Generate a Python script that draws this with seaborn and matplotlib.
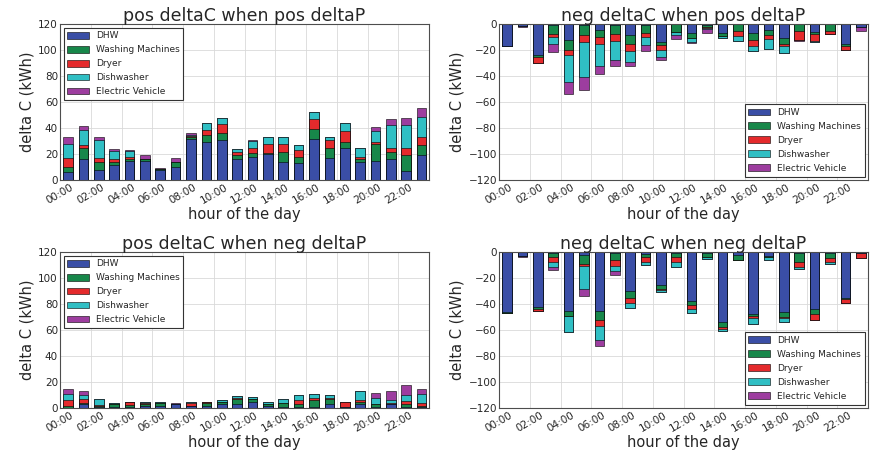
import numpy as np
import pandas as pd
import matplotlib
matplotlib.use("Agg")
import matplotlib.pyplot as plt
from matplotlib.patches import Patch
import seaborn as sns

hours = np.arange(24)
hour_labels = [f"{h:02d}:00" for h in range(0, 24, 2)]
appliances = ["DHW", "Washing Machines", "Dryer", "Dishwasher", "Electric Vehicle"]
colors = ["#3a4ea6", "#17874a", "#e42a2c", "#30bfc4", "#9d3d9f"]

# pos deltaC when pos deltaP
pp_dhw = [6, 16, 8, 12, 14.4, 15, 7.7, 10.3, 31.4, 29, 31, 16, 17.5, 20, 13.6, 13.4, 31.4, 17.2, 24.4, 13.6, 14.7, 16, 7, 19.3]
pp_wm = [4, 8.5, 5.6, 1.6, 1.6, 1, 0.8, 3.3, 2, 5.7, 5.5, 3.3, 3.5, 1, 8.4, 4.6, 7.9, 7.2, 4.6, 2.4, 13.1, 5.9, 12.3, 7.7]
pp_dryer = [7, 2.5, 3.4, 2.4, 2, 0.5, 0, 0.4, 0.6, 3.9, 6.7, 2.7, 3.4, 6.5, 5.8, 5, 7.5, 6.4, 8.8, 2, 1.8, 2.5, 5.1, 6.4]
pp_dw = [11, 11.5, 14, 6.6, 4.6, 0, 0, 0, 0.7, 5.1, 4.8, 2, 5.9, 5.5, 5.2, 4, 5.6, 2.2, 6.4, 6.4, 8.4, 18, 18, 15.4]
pp_ev = [5, 3.5, 2, 1.4, 0.8, 2.5, 0.5, 3, 1.8, 0.3, 0, 0, 0.7, 0, 0, 0, 0, 0, 0, 0, 2.8, 4.6, 5.2, 6.5]

# neg deltaC when pos deltaP
np_dhw = [16.5, 1.5, 24, 1, 12.5, 1, 4.7, 1, 8.6, 1, 13.8, 0, 6.8, 0.5, 7, 0, 7, 4.2, 11, 0, 6, 0, 15.5, 2]
np_wm = [0, 0, 1.5, 6.8, 7.5, 7.6, 5.3, 6.8, 6.4, 5.8, 2.2, 6, 3.6, 1.5, 2, 5, 5, 4.4, 4.4, 5.2, 2, 5, 1.5, 0]
np_dryer = [0, 0, 4.5, 2.2, 3.5, 5.2, 5, 5.2, 5.4, 3.2, 3.8, 0, 0.5, 1, 0, 4, 5, 2.6, 1.5, 7, 5, 2.8, 3, 0]
np_dw = [0, 0, 0, 5, 21, 27, 17, 14.7, 9, 6.4, 5.8, 2.6, 2.6, 0.5, 2, 4, 4, 7.8, 5, 0, 0.8, 0, 0, 0]
np_ev = [0, 0.5, 0, 6.7, 9.5, 10, 6.6, 4.3, 2.5, 4, 2.4, 2.6, 1.3, 3.5, 0, 0, 0, 0, 0, 0.5, 0, 0, 0, 3]

# pos deltaC when neg deltaP
pn_dhw = [0, 3, 0.5, 1, 1, 2, 2, 3, 1.5, 2, 3, 3, 5, 1.5, 0.5, 0.5, 1, 3, 0.5, 3, 1, 3, 1, 0.5]
pn_wm = [2, 1, 1, 2, 1.5, 1, 2, 0.5, 0, 2, 2, 4, 2, 2, 3.5, 3, 5, 4, 0.5, 1.5, 2, 0.5, 2, 1]
pn_dryer = [4, 3, 1, 0.5, 2, 1, 0, 0, 2.5, 0.5, 0, 0.5, 0, 0, 0, 3, 1.5, 0.5, 3.5, 2, 0.5, 0.5, 2.5, 2.5]
pn_dw = [5, 3, 4.5, 0.5, 0.5, 0.5, 0.5, 0, 0.5, 0.5, 1.5, 1.5, 1.5, 1.5, 3, 3.5, 3.5, 2.5, 0.5, 7, 4, 2.5, 4.5, 7]
pn_ev = [4, 3, 0, 0, 0, 0, 0, 0.5, 0, 0, 0, 0, 0, 0, 0, 0, 0, 0, 0, 0, 4.5, 7, 8, 4]

# neg deltaC when neg deltaP
nn_dhw = [46, 3, 42.5, 1, 45, 2, 45, 1, 30, 1.5, 25, 1, 37.5, 1, 54, 2, 47.5, 3, 46, 1, 43.5, 1, 35, 0.5]
nn_wm = [1, 0, 1, 3, 4, 7, 7, 5.5, 5, 2, 3.5, 3, 3, 2.5, 3.5, 4, 1.5, 0.5, 4, 6.5, 4.5, 3.5, 1, 0]
nn_dryer = [0, 0, 2, 4, 0.5, 1.5, 4.5, 4.5, 4.5, 4, 1, 4, 3.5, 0, 2, 0, 2, 0, 1, 4, 4.5, 3.5, 3, 4]
nn_dw = [0, 0, 0, 3.5, 12, 18, 11, 3.5, 3.5, 2.5, 1.5, 3.5, 3, 1.5, 1.5, 0, 4.5, 3, 3, 1.5, 0, 1, 0, 0]
nn_ev = [0, 1, 0, 2.5, 0, 5, 4.5, 3.5, 0, 0, 0, 0, 0, 0, 0, 0, 0, 0, 0, 0, 0, 0, 0, 0]

sns.set_theme(style="whitegrid", rc={
    "axes.edgecolor": "0.3",
    "axes.linewidth": 0.8,
    "grid.color": "0.85",
    "grid.linewidth": 0.6,
    "xtick.labelsize": 7.5,
    "ytick.labelsize": 7.5,
})
plt.rcParams["font.family"] = ["DejaVu Sans"]


def stacked_panel(ax, layers, title, sign, legend_loc):
    cum = np.cumsum(np.array(layers, dtype=float), axis=0) * sign
    rows = []
    for k, name in enumerate(appliances):
        for h in hours:
            rows.append({"pos": h + 0.52, "appliance": name, "value": cum[k, h]})
    df = pd.DataFrame(rows)
    # draw the outermost layer first so inner ones sit on top of it
    sns.barplot(data=df, x="pos", y="value", hue="appliance",
                hue_order=appliances[::-1], palette=colors[::-1],
                dodge=False, native_scale=True, width=0.62, saturation=1,
                errorbar=None, edgecolor="black", linewidth=0.4,
                legend=False, ax=ax)
    ax.set_xlim(0, 24)
    if sign > 0:
        ax.set_yticks(np.arange(0, 121, 20))
        ax.set_ylim(0, 120)
    else:
        ax.set_yticks(np.arange(-120, 1, 20))
        ax.set_ylim(-120, 0)
    ax.set_xticks(np.arange(0, 24, 2))
    ax.set_xticklabels(hour_labels, rotation=30, ha="center")
    ax.tick_params(axis="both", pad=1.5, length=0)
    ax.set_title(title, fontsize=12.5, pad=2)
    ax.set_ylabel("delta C (kWh)", fontsize=10.5, labelpad=3)
    ax.set_xlabel("hour of the day", fontsize=10.5, labelpad=1)
    handles = [Patch(facecolor=c, edgecolor="black", linewidth=0.4) for c in colors]
    leg = ax.legend(handles, appliances, loc=legend_loc, fontsize=6.5,
                    frameon=True, fancybox=False, edgecolor="0.2",
                    framealpha=1, labelspacing=0.55, handlelength=2.4,
                    handleheight=0.8, borderaxespad=0.4, borderpad=0.4)
    leg.get_frame().set_linewidth(0.8)


fig, axes = plt.subplots(2, 2, figsize=(8.76, 4.54), dpi=100)
fig.subplots_adjust(left=0.0685, right=0.991, bottom=0.101, top=0.947,
                    wspace=0.19, hspace=0.46)

stacked_panel(axes[0, 0], [pp_dhw, pp_wm, pp_dryer, pp_dw, pp_ev],
              "pos deltaC when pos deltaP", 1, "upper left")
stacked_panel(axes[0, 1], [np_dhw, np_wm, np_dryer, np_dw, np_ev],
              "neg deltaC when pos deltaP", -1, "lower right")
stacked_panel(axes[1, 0], [pn_dhw, pn_wm, pn_dryer, pn_dw, pn_ev],
              "pos deltaC when neg deltaP", 1, "upper left")
stacked_panel(axes[1, 1], [nn_dhw, nn_wm, nn_dryer, nn_dw, nn_ev],
              "neg deltaC when neg deltaP", -1, "lower right")

fig.savefig("out.png", dpi=100)
